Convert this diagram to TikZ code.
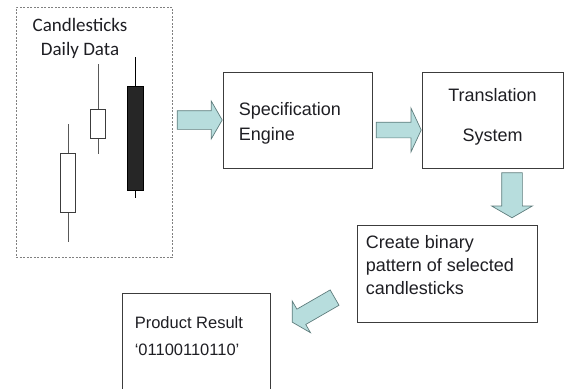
\documentclass[tikz,border=0pt]{standalone}
\usepackage{fontspec}
\newfontfamily\arialf{Liberation Sans}
\newfontfamily\calibrif{Carlito}
\usepackage{tikz}
\usetikzlibrary{positioning, shapes.arrows, calc}
\definecolor{arrowfill}{RGB}{183,221,221}
\definecolor{arrowline}{RGB}{95,125,125}
\definecolor{boxline}{RGB}{60,60,60}
\definecolor{txtcol}{RGB}{30,30,35}

\begin{document}
\begin{tikzpicture}[x=1pt, y=-1pt,
    box/.style={draw=boxline, line width=0.8pt, rectangle, inner sep=0pt},
    blockarrow/.style={single arrow, draw=arrowline, fill=arrowfill, line width=0.7pt,
        inner xsep=0pt, single arrow tip angle=120, single arrow head indent=0pt},
    lbl/.style={font=\arialf\fontsize{18}{25}\selectfont, text=txtcol, inner sep=0pt},
    wick/.style={line width=0.8pt},
    body/.style={draw=boxline, line width=0.8pt}]
    \clip (0,0) rectangle (569,388);

    % Daily data panel
    \node[box, draw=gray, dash pattern=on 2pt off 1.5pt, minimum width=156, minimum height=250] (data) at (94,132) {};
    \node[font=\calibrif\fontsize{19}{23.5}\selectfont, text=txtcol, align=center, inner sep=0pt, anchor=north]
        (datatxt) at ([xshift=-14, yshift=-12]data.north) {Candlesticks\\Daily Data};

    % Candles
    \draw[wick, gray!70!black] (68,124) -- (68,242);
    \filldraw[body, fill=white] (60,153) rectangle (75,212);
    \draw[wick, gray!70!black] (98,64) -- (98,154);
    \filldraw[body, fill=white] (90,109) rectangle (105,138);
    \draw[wick, black] (135,57) -- (135,198);
    \filldraw[body, draw=black, fill=black!85] (127,86) rectangle (143,190);

    % Processing boxes
    \node[box, minimum width=149, minimum height=96] (spec) at (297.5,120) {};
    \node[lbl, align=left, anchor=north west] (spectxt) at ([xshift=16, yshift=-31]spec.north west) {Specification\\Engine};

    \node[box, minimum width=141, minimum height=96] (trans) at (492.5,120) {};
    \node[lbl, font=\arialf\fontsize{18}{40}\selectfont, align=center, anchor=north] (transtxt) at ([yshift=-16.5]trans.north) {Translation\\System};

    \node[box, minimum width=180, minimum height=97] (create) at (447,273.5) {};
    \node[lbl, font=\arialf\fontsize{18}{23}\selectfont, align=left, anchor=north west] (createtxt)
        at ([xshift=9, yshift=-10.5]create.north west) {Create binary\\pattern of selected\\candlesticks};

    \node[box, minimum width=148, minimum height=110] (product) at (196,348) {};
    \node[lbl, font=\arialf\fontsize{16.5}{27}\selectfont, align=left, anchor=north west] (producttxt)
        at ([xshift=13, yshift=-24]product.north west) {Product Result\\‘01100110110’};

    % Block arrows
    \node[blockarrow, minimum height=45, inner ysep=9pt, single arrow head extend=9.5pt, anchor=tip] (a1) at (spec.west) {};
    \node[blockarrow, minimum height=45, inner ysep=7.5pt, single arrow head extend=14pt, single arrow tip angle=130, anchor=tip] (a2) at ([yshift=-10]trans.west) {};
    \node[blockarrow, minimum height=45, inner ysep=10pt, single arrow head extend=10pt, rotate=-90, anchor=tail] (a3) at ([xshift=19.5, yshift=-4]trans.south) {};
    \node[blockarrow, minimum height=49, inner ysep=8.5pt, single arrow head extend=9.5pt, rotate=210, anchor=tip] (a4) at ([xshift=21.4, yshift=-29.7]product.north east) {};
\end{tikzpicture}
\end{document}
